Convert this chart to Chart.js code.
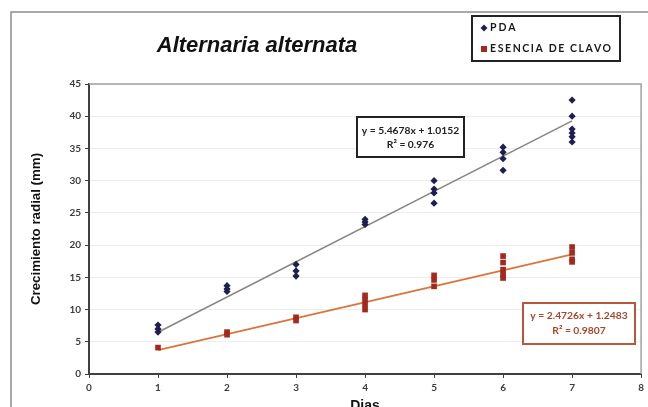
<!DOCTYPE html>
<html>
<head>
<meta charset="utf-8">
<script src="https://cdn.jsdelivr.net/npm/chart.js@4/dist/chart.umd.min.js"></script>
<style>
  html, body { margin: 0; padding: 0; background: #fff; }
</style>
</head>
<body>
<canvas id="myChart" width="648" height="407"></canvas>
<script>
// values
const days = [1, 2, 3, 4, 5, 6, 7];
const pdaValues = [
    [7.6, 7.0, 6.5],
    [13.7, 13.2, 12.8],
    [17.0, 16.0, 15.2],
    [24.0, 23.6, 23.2],
    [30.0, 28.7, 28.1, 26.5],
    [35.2, 34.4, 33.4, 31.6],
    [42.5, 40.0, 38.0, 37.4, 36.8, 36.0]
];
const clavoValues = [
    [4.1],
    [6.5, 6.1],
    [8.8, 8.3],
    [12.2, 11.5, 10.8, 10.0],
    [15.3, 14.6, 13.6],
    [18.3, 17.3, 16.2, 15.4, 14.9],
    [19.7, 18.8, 17.8, 17.4]
];
const seriesNames = ['PDA', 'ESENCIA DE CLAVO'];
const trendSlope = [5.4678, 2.4726];
const trendIntercept = [1.0152, 1.2483];
const trendText = [
    ['y = 5.4678x + 1.0152', 'R\u00b2 = 0.976'],
    ['y = 2.4726x + 1.2483', 'R\u00b2 = 0.9807']
];
const chartTitle = 'Alternaria alternata';
const xTitle = 'Dias';
const yTitle = 'Crecimiento radial (mm)';
const xMin = 0, xMax = 8, yMin = 0, yMax = 45, yStep = 5;

const pdaColor = '#1e1e50';
const clavoColor = '#a3291f';
const pdaLine = '#8a8580';
const clavoLine = '#d8763a';
const tickFont = { family: 'Lato', weight: 'bold', size: 10 };

function toPoints(groups) {
    const pts = [];
    groups.forEach((vals, i) => vals.forEach(v => pts.push({ x: days[i], y: v })));
    return pts;
}

function trend(k) {
    const first = days[0], last = days[days.length - 1];
    return [
        { x: first, y: trendSlope[k] * first + trendIntercept[k] },
        { x: last, y: trendSlope[k] * last + trendIntercept[k] }
    ];
}

const decor = {
    id: 'decor',
    beforeDraw(chart) {
        const c = chart.ctx;
        c.save();
        c.fillStyle = '#fff';
        c.fillRect(0, 0, chart.width, chart.height);
        c.strokeStyle = '#8c8c8c';
        c.lineWidth = 1.5;
        c.beginPath();
        c.moveTo(11, chart.height);
        c.lineTo(11, 12);
        c.lineTo(chart.width, 12);
        c.stroke();
        c.restore();
    },
    afterDatasetsDraw(chart) {
        const c = chart.ctx;
        const a = chart.chartArea;
        c.save();
        // plot frame top / right
        c.strokeStyle = '#a0a0a0';
        c.lineWidth = 1.5;
        c.beginPath();
        c.moveTo(a.left, a.top);
        c.lineTo(a.right, a.top);
        c.lineTo(a.right, a.bottom);
        c.stroke();

        // equation boxes
        const boxes = [
            { x: 357, y: 117, w: 107, h: 40, border: '#222', text: '#222', l1: 131, l2: 145 },
            { x: 523, y: 303, w: 112, h: 41, border: '#b8573c', text: '#a9452a', l1: 316, l2: 331 }
        ];
        boxes.forEach((b, k) => {
            c.fillStyle = '#fff';
            c.fillRect(b.x, b.y, b.w, b.h);
            c.strokeStyle = b.border;
            c.lineWidth = 2;
            c.strokeRect(b.x, b.y, b.w, b.h);
            c.fillStyle = b.text;
            c.font = 'bold 10.3px Lato';
            c.textAlign = 'center';
            c.textBaseline = 'middle';
            c.fillText(trendText[k][0], b.x + b.w / 2, b.l1);
            c.fillText(trendText[k][1], b.x + b.w / 2, b.l2);
        });
        c.restore();
    },
    afterDraw(chart) {
        const c = chart.ctx;
        c.save();
        // title
        c.fillStyle = '#111';
        c.font = 'italic bold 22px "Liberation Sans"';
        c.textAlign = 'center';
        c.textBaseline = 'alphabetic';
        c.fillText(chartTitle, 257, 52);

        // legend
        c.fillStyle = '#fff';
        c.fillRect(472, 16, 148, 45);
        c.strokeStyle = '#222';
        c.lineWidth = 2;
        c.strokeRect(472, 16, 148, 45);

        c.fillStyle = pdaColor;
        c.beginPath();
        c.moveTo(484, 24.5);
        c.lineTo(487.5, 28);
        c.lineTo(484, 31.5);
        c.lineTo(480.5, 28);
        c.closePath();
        c.fill();
        c.fillStyle = clavoColor;
        c.fillRect(481, 46, 6, 6);

        c.fillStyle = '#1a1a1a';
        c.font = 'bold 10.5px Lato';
        c.textAlign = 'left';
        c.textBaseline = 'middle';
        c.letterSpacing = '2px';
        c.fillText(seriesNames[0], 490, 28);
        c.letterSpacing = '1.6px';
        c.fillText(seriesNames[1], 490, 49);
        c.restore();
    }
};

const ctx = document.getElementById('myChart').getContext('2d');
const First_chart = new Chart(ctx, {
    type: 'scatter',
    data: {
        datasets: [
            {
                label: seriesNames[0],
                data: toPoints(pdaValues),
                pointStyle: 'rectRot',
                pointRadius: 3.6,
                backgroundColor: pdaColor,
                borderColor: pdaColor,
                borderWidth: 0,
                order: 0
            },
            {
                label: seriesNames[1],
                data: toPoints(clavoValues),
                pointStyle: 'rect',
                pointRadius: 4,
                backgroundColor: clavoColor,
                borderColor: clavoColor,
                borderWidth: 0,
                order: 0
            },
            {
                label: 'trend PDA',
                type: 'line',
                data: trend(0),
                borderColor: pdaLine,
                borderWidth: 1.5,
                pointRadius: 0,
                order: 1
            },
            {
                label: 'trend clavo',
                type: 'line',
                data: trend(1),
                borderColor: clavoLine,
                borderWidth: 1.8,
                pointRadius: 0,
                order: 1
            }
        ]
    },
    options: {
        responsive: false,
        animation: false,
        devicePixelRatio: 1,
        layout: { padding: { left: 0, right: 5, top: 84, bottom: 0 } },
        plugins: {
            legend: { display: false },
            title: { display: false },
            tooltip: { enabled: false }
        },
        scales: {
            x: {
                type: 'linear',
                min: xMin,
                max: xMax,
                ticks: { stepSize: 1, color: '#3c3c3c', font: tickFont, padding: 4 },
                grid: { drawOnChartArea: false, tickLength: 4, tickColor: '#404040' },
                border: { color: '#404040', width: 2 },
                title: {
                    display: true,
                    text: xTitle,
                    color: '#111',
                    font: { family: 'Liberation Sans', weight: 'bold', size: 14, lineHeight: 1 },
                    padding: { top: 0, bottom: -6 }
                },
                afterFit: s => { s.height = 33; }
            },
            y: {
                min: yMin,
                max: yMax,
                ticks: { stepSize: yStep, color: '#3c3c3c', font: tickFont, padding: 4 },
                grid: { color: '#ececec', tickLength: 4, tickColor: '#404040' },
                border: { color: '#404040', width: 2 },
                title: {
                    display: true,
                    text: yTitle,
                    color: '#111',
                    font: { family: 'Liberation Sans', weight: 'bold', size: 13.3, lineHeight: 1.2 },
                    padding: { top: 28, bottom: 0 }
                },
                afterFit: s => { s.width = 89; }
            }
        }
    },
    plugins: [decor]
});
console.log("Loaded");
</script>
</body>
</html>
